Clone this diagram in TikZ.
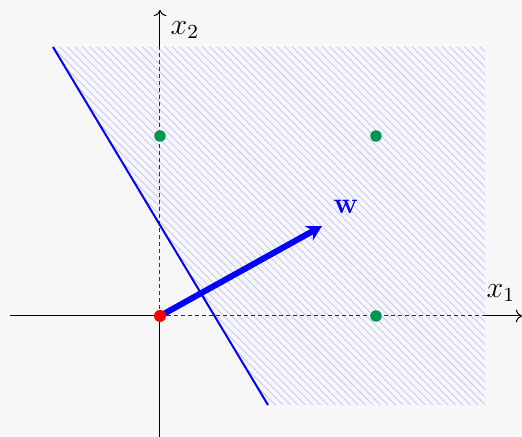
\documentclass[tikz,border=0pt]{standalone}
\usetikzlibrary{patterns,arrows.meta}
\definecolor{bg}{RGB}{247,247,247}
\definecolor{ptgreen}{RGB}{0,150,80}
\definecolor{hatch}{RGB}{200,200,255}
\begin{document}
\begin{tikzpicture}[x=0.4pt,y=-0.4pt,
  dot/.style={circle,inner sep=0pt,minimum size=4.6pt},
  axis/.style={line width=0.4pt,black},
  axisdash/.style={line width=0.4pt,black!80,dash pattern=on 1.6pt off 1.2pt},
  lbl/.style={font=\large}]
\fill[bg] (0,0) rectangle (522,437);
\useasboundingbox (0,0) rectangle (522,437);
% half-plane
\fill[pattern=north west lines,pattern color=hatch] (53,47) -- (485,47) -- (485,405) -- (268,405) -- cycle;
% coordinates
\coordinate (O) at (160,316);
\coordinate (xl) at (10,316);
\coordinate (xm) at (485,316);
\coordinate (xe) at (522,316);
\coordinate (yb) at (160,437);
\coordinate (ym) at (160,47);
\coordinate (ye) at (160,10);
% axes
\draw[axis] (xl) -- (O);
\draw[axisdash] (O) -- (xm);
\draw[axis,->] (xm) -- (xe);
\draw[axis] (yb) -- (O);
\draw[axisdash] (O) -- (ym);
\draw[axis,->] (ym) -- (ye);
\node[lbl] (lx1) at (501,293) {$x_1$};
\node[lbl] (lx2) at (185,30) {$x_2$};
% separating line
\coordinate (La) at (53,47);
\coordinate (Lb) at (268,405);
\draw[blue,line width=0.8pt] (La) -- (Lb);
% weight vector
\coordinate (W) at (322,226);
\draw[blue,line width=2.4pt,-{Stealth[length=6pt,width=6.5pt]}] (O) -- (W);
\node[lbl,text=blue] (lw) at (346,207) {$\mathbf{w}$};
% points
\node[dot,fill=red,minimum size=4.8pt] (p0) at (O) {};
\node[dot,fill=ptgreen] (p1) at (160,136) {};
\node[dot,fill=ptgreen] (p2) at (376,136) {};
\node[dot,fill=ptgreen] (p3) at (376,316) {};
\end{tikzpicture}
\end{document}
